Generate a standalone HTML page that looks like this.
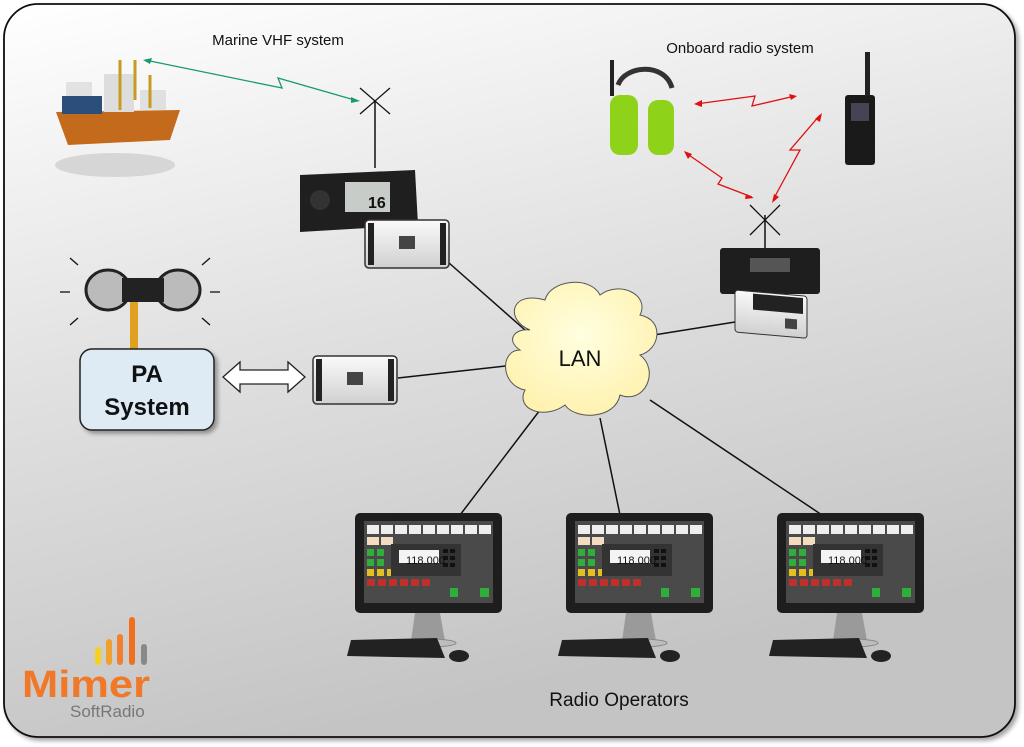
<!DOCTYPE html>
<html><head><meta charset="utf-8"><style>
body{margin:0;background:#fff;width:1024px;height:747px;overflow:hidden}
svg{display:block;font-family:"Liberation Sans",sans-serif}
</style></head><body>
<svg width="1024" height="747" viewBox="0 0 1024 747">
<defs>
<linearGradient id="bg" x1="0" y1="0" x2="0.3" y2="1">
<stop offset="0" stop-color="#ffffff"/><stop offset="0.5" stop-color="#e0e0e0"/><stop offset="1" stop-color="#c4c4c4"/></linearGradient>
<linearGradient id="box" x1="0" y1="0" x2="0" y2="1"><stop offset="0" stop-color="#fafafa"/><stop offset="1" stop-color="#d0d0d0"/></linearGradient>
<radialGradient id="cloud" cx="0.5" cy="0.4" r="0.6"><stop offset="0" stop-color="#ffffe0"/><stop offset="1" stop-color="#fff2b0"/></radialGradient>
<filter id="sh"><feDropShadow dx="3" dy="3" stdDeviation="2" flood-opacity="0.35"/></filter>
<g id="mon">
<rect x="0" y="0" width="147" height="100" rx="5" fill="#1e1e1e"/>
<rect x="9" y="8" width="129" height="82" fill="#4a4a4a"/>
<g fill="#eee"><rect x="12" y="12" width="12" height="9"/><rect x="26" y="12" width="12" height="9"/><rect x="40" y="12" width="12" height="9"/><rect x="54" y="12" width="12" height="9"/><rect x="68" y="12" width="12" height="9"/><rect x="82" y="12" width="12" height="9"/><rect x="96" y="12" width="12" height="9"/><rect x="110" y="12" width="12" height="9"/><rect x="124" y="12" width="12" height="9"/></g>
<g fill="#f3dcc0"><rect x="12" y="24" width="12" height="8"/><rect x="26" y="24" width="12" height="8"/></g>
<g fill="#2fae3c"><rect x="12" y="36" width="7" height="7"/><rect x="22" y="36" width="7" height="7"/><rect x="12" y="46" width="7" height="7"/><rect x="22" y="46" width="7" height="7"/><rect x="95" y="75" width="8" height="9"/><rect x="125" y="75" width="9" height="9"/></g>
<g fill="#e3c020"><rect x="12" y="56" width="7" height="7"/><rect x="22" y="56" width="7" height="7"/><rect x="32" y="56" width="7" height="7"/></g>
<g fill="#c0302a"><rect x="12" y="66" width="8" height="7"/><rect x="23" y="66" width="8" height="7"/><rect x="34" y="66" width="8" height="7"/><rect x="45" y="66" width="8" height="7"/><rect x="56" y="66" width="8" height="7"/><rect x="67" y="66" width="8" height="7"/></g>
<rect x="36" y="31" width="70" height="32" fill="#333"/>
<rect x="44" y="37" width="40" height="13" fill="#f4f4f4"/>
<g fill="#111"><rect x="88" y="36" width="5" height="4"/><rect x="95" y="36" width="5" height="4"/><rect x="88" y="43" width="5" height="4"/><rect x="95" y="43" width="5" height="4"/><rect x="88" y="50" width="5" height="4"/><rect x="95" y="50" width="5" height="4"/></g>
<path d="M60 100 L85 100 L90 128 L56 128Z" fill="#9a9a9a"/>
<ellipse cx="73" cy="130" rx="28" ry="4" fill="#bdbdbd" stroke="#888"/>
<path d="M-4 127 L82 125 L90 145 L-8 143Z" fill="#222"/>
<ellipse cx="104" cy="143" rx="10" ry="6" fill="#222"/>
</g>
<g id="xbox">
<rect x="0" y="0" width="84" height="48" rx="4" fill="url(#box)" stroke="#333" stroke-width="1.5"/>
<rect x="34" y="16" width="16" height="13" fill="#444"/>
<rect x="3" y="3" width="6" height="42" fill="#222"/><rect x="75" y="3" width="6" height="42" fill="#222"/>
</g>
</defs>

<rect x="4" y="4" width="1011" height="733" rx="34" fill="url(#bg)" stroke="#111" stroke-width="1.8" filter="url(#sh)"/>

<g stroke="#111" stroke-width="1.5">
<line x1="440" y1="255" x2="525" y2="330"/>
<line x1="398" y1="378" x2="515" y2="365"/>
<line x1="735" y1="322" x2="635" y2="338"/>
<line x1="540" y1="410" x2="460" y2="515"/>
<line x1="600" y1="418" x2="620" y2="515"/>
<line x1="650" y1="400" x2="822" y2="515"/>
<line x1="375" y1="100" x2="375" y2="168"/>
<line x1="765" y1="215" x2="765" y2="250"/>
</g>

<path d="M530 330 C505 320 510 290 545 300 C550 280 590 275 600 295 C620 280 650 295 640 315 C665 320 660 350 640 355 C660 370 645 405 620 395 C615 420 575 420 565 405 C545 420 515 410 525 390 C500 385 500 350 520 350 C505 340 515 328 530 330Z" fill="url(#cloud)" stroke="#555" stroke-width="1"/>
<text x="580" y="366" font-size="22" text-anchor="middle" fill="#111">LAN</text>

<g>
<ellipse cx="115" cy="165" rx="60" ry="12" fill="#bbb" opacity="0.5"/>
<path d="M56 112 L180 110 L170 140 L68 145 Z" fill="#c46a1c"/>
<rect x="62" y="96" width="40" height="18" fill="#2c4e7a"/>
<rect x="66" y="82" width="26" height="14" fill="#e2e2e2"/>
<rect x="104" y="74" width="30" height="38" fill="#ddd"/>
<rect x="140" y="90" width="26" height="20" fill="#e0e0e0"/>
<g stroke="#c89a20" stroke-width="3"><line x1="120" y1="60" x2="120" y2="110"/><line x1="135" y1="60" x2="135" y2="100"/><line x1="150" y1="75" x2="150" y2="108"/></g>
</g>
<text x="278" y="45" font-size="15" text-anchor="middle" fill="#111">Marine VHF system</text>
<path d="M145 60 L282 88 L278 78 L358 101" fill="none" stroke="#1a9a6a" stroke-width="1.3"/>
<path d="M143 60 l9 -2 l-2 6z M360 101 l-9 -4 l0 6z" fill="#1a9a6a"/>
<g stroke="#111" stroke-width="1.3"><line x1="360" y1="88" x2="390" y2="114"/><line x1="390" y1="88" x2="360" y2="114"/></g>

<path d="M300 175 L415 170 L418 225 L300 232Z" fill="#1f1f1f"/>
<rect x="345" y="182" width="45" height="30" fill="#c8ccc8"/>
<text x="368" y="208" font-size="16" font-weight="bold" fill="#111">16</text>
<circle cx="320" cy="200" r="10" fill="#333"/>
<use href="#xbox" x="365" y="220"/>

<text x="740" y="53" font-size="15" text-anchor="middle" fill="#111">Onboard radio system</text>
<g>
<path d="M618 85 C625 65 665 62 672 88" fill="none" stroke="#333" stroke-width="5"/>
<rect x="610" y="95" width="28" height="60" rx="10" fill="#8fd21a"/>
<rect x="648" y="100" width="26" height="55" rx="10" fill="#8fd21a"/>
<rect x="610" y="60" width="4" height="36" fill="#222"/>
</g>
<g><rect x="845" y="95" width="30" height="70" rx="3" fill="#1a1a1a"/><rect x="851" y="103" width="18" height="18" fill="#445"/><rect x="865" y="52" width="5" height="44" fill="#222"/></g>
<g stroke="#e01010" stroke-width="1.3" fill="none">
<path d="M696 104 L755 96 L752 106 L795 96"/>
<path d="M686 153 L722 178 L718 184 L752 197"/>
<path d="M773 200 L800 150 L790 150 L820 115"/>
</g>
<g fill="#e01010">
<path d="M694 104 l8 -4 l0 7z M797 96 l-8 -2 l2 6z M684 151 l4 8 l4 -5z M754 198 l-8 -4 l-1 5z M772 203 l2 -9 l5 3z M822 113 l-2 9 l-5 -3z"/>
</g>
<g stroke="#111" stroke-width="1.3"><line x1="750" y1="205" x2="780" y2="235"/><line x1="780" y1="205" x2="750" y2="235"/></g>
<rect x="720" y="248" width="100" height="46" rx="3" fill="#1e1e1e"/>
<rect x="750" y="258" width="40" height="14" fill="#555"/>
<g transform="translate(735,290) skewY(5)"><rect width="72" height="42" rx="3" fill="url(#box)" stroke="#333"/><rect x="18" y="2" width="50" height="16" fill="#222"/><rect x="50" y="24" width="12" height="10" fill="#444"/></g>

<g>
<rect x="130" y="295" width="8" height="55" fill="#e0a020"/>
<ellipse cx="108" cy="290" rx="22" ry="20" fill="#bbb" stroke="#222" stroke-width="3"/>
<ellipse cx="178" cy="290" rx="22" ry="20" fill="#bbb" stroke="#222" stroke-width="3"/>
<rect x="122" y="278" width="42" height="24" fill="#222"/>
<g stroke="#111" stroke-width="1.3"><line x1="70" y1="292" x2="60" y2="292"/><line x1="78" y1="265" x2="70" y2="258"/><line x1="78" y1="318" x2="70" y2="325"/><line x1="210" y1="292" x2="220" y2="292"/><line x1="202" y1="265" x2="210" y2="258"/><line x1="202" y1="318" x2="210" y2="325"/></g>
</g>
<rect x="80" y="349" width="134" height="81" rx="12" fill="#deebf5" stroke="#222" stroke-width="1.5" filter="url(#sh)"/>
<text x="147" y="382" font-size="24" font-weight="bold" text-anchor="middle" fill="#111">PA</text>
<text x="147" y="415" font-size="24" font-weight="bold" text-anchor="middle" fill="#111">System</text>
<path d="M223 377 L240 362 L240 370 L288 370 L288 362 L305 377 L288 392 L288 384 L240 384 L240 392Z" fill="#fff" stroke="#222" stroke-width="1.3"/>
<use href="#xbox" x="313" y="356"/>

<use href="#mon" x="355" y="513"/>
<use href="#mon" x="566" y="513"/>
<use href="#mon" x="777" y="513"/>
<g font-size="11" fill="#111"><text x="406" y="564">118.000</text><text x="617" y="564">118.000</text><text x="828" y="564">118.000</text></g>
<text x="619" y="706" font-size="19" text-anchor="middle" fill="#111">Radio Operators</text>

<g stroke-linecap="round" stroke-width="6">
<line x1="98" y1="662" x2="98" y2="650" stroke="#f5d020"/>
<line x1="109" y1="662" x2="109" y2="642" stroke="#f0a030"/>
<line x1="120" y1="662" x2="120" y2="637" stroke="#f08030"/>
<line x1="132" y1="662" x2="132" y2="620" stroke="#f07020"/>
<line x1="144" y1="662" x2="144" y2="647" stroke="#888"/>
</g>
<text x="22" y="697" font-size="38" font-weight="bold" fill="#f07828" textLength="128" lengthAdjust="spacingAndGlyphs">Mimer</text>
<text x="70" y="717" font-size="17" fill="#777">SoftRadio</text>
</svg>
</body></html>
